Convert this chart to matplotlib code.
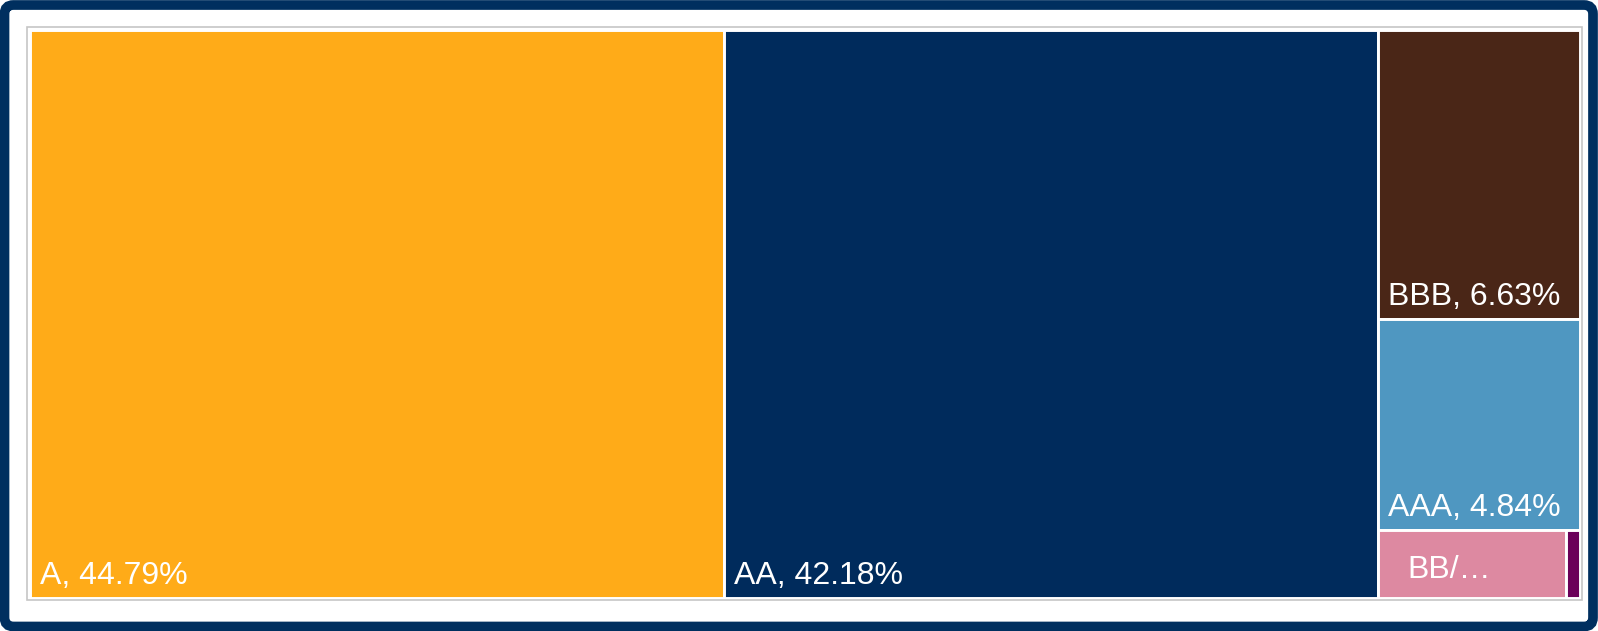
import matplotlib
matplotlib.use("Agg")
import matplotlib.pyplot as plt
from matplotlib.patches import Rectangle, FancyBboxPatch
from matplotlib.transforms import IdentityTransform

# Rating breakdown (% of portfolio)
ratings = ["A", "AA", "BBB", "AAA", "BB/B", "NR"]
shares = [44.79, 42.18, 6.63, 4.84, 1.45, 0.11]
colors = ["#FFAB18", "#002B5C", "#4A2617", "#4F97C1", "#DD89A1", "#6B0059"]
# labels as they fit in each tile (None = too small to label)
labels = ["A, 44.79%", "AA, 42.18%", "BBB, 6.63%", "AAA, 4.84%", "BB/\u2026", None]

FW, FH = 1598, 631    # figure size in pixels
W, H = 1550.0, 568.0  # treemap area in pixels


def worst(row, short):
    s = sum(row)
    return max(max(short**2 * r / s**2, s**2 / (short**2 * r)) for r in row)


def squarify(areas, x, y, w, h):
    '''Squarified treemap layout, y grows downward'''
    rects = []
    vals = list(areas)
    while vals:
        short = min(w, h)
        row = [vals[0]]
        i = 1
        while i < len(vals) and worst(row + [vals[i]], short) <= worst(row, short):
            row.append(vals[i])
            i += 1
        vals = vals[i:]
        s = sum(row)
        if w >= h:
            cw = s / h
            yy = y
            for v in row:
                rects.append((x, yy, cw, v / cw))
                yy += v / cw
            x += cw
            w -= cw
        else:
            rh = s / w
            xx = x
            for v in row:
                rects.append((xx, y, v / rh, rh))
                xx += v / rh
            y += rh
            h -= rh
    return rects


total = sum(shares)
areas = [v / total * W * H for v in shares]
rects = squarify(areas, 0, 0, W, H)

fig = plt.figure(figsize=(FW / 100, FH / 100), dpi=100)
fig.patch.set_facecolor("white")

# navy rounded frame around the whole graphic (pixel coordinates)
frame = FancyBboxPatch((4.5, 4.5), FW - 9.5, FH - 9.5,
                       boxstyle="round,pad=0,rounding_size=9",
                       transform=IdentityTransform(), facecolor="white",
                       edgecolor="#002F5F", linewidth=7, zorder=0)
fig.patches.append(frame)

# thin grey border of the plot area
fig.patches.append(Rectangle((27, FH - 600), 1555, 573, transform=IdentityTransform(),
                             facecolor="none", edgecolor="#C6C6C6", linewidth=1.2, zorder=1))

ax = fig.add_axes([30 / FW, 1 - 598 / FH, W / FW, H / FH])
ax.set_zorder(3)
ax.set_xlim(0, W)
ax.set_ylim(H, 0)
ax.axis("off")

for (x, y, w, h), c, lab in zip(rects, colors, labels):
    ax.add_patch(Rectangle((x, y), w, h, facecolor=c, edgecolor="white", linewidth=2.1))
    if lab is None:
        continue
    if lab.endswith("\u2026"):
        ax.text(x + 29, y + h - 20, lab, color="white", fontsize=23,
                family="Liberation Sans", ha="left", va="baseline")
    else:
        ax.text(x + 10, y + h - 14, lab, color="white", fontsize=23,
                family="Liberation Sans", ha="left", va="baseline")

fig.savefig("out.png", dpi=100)
